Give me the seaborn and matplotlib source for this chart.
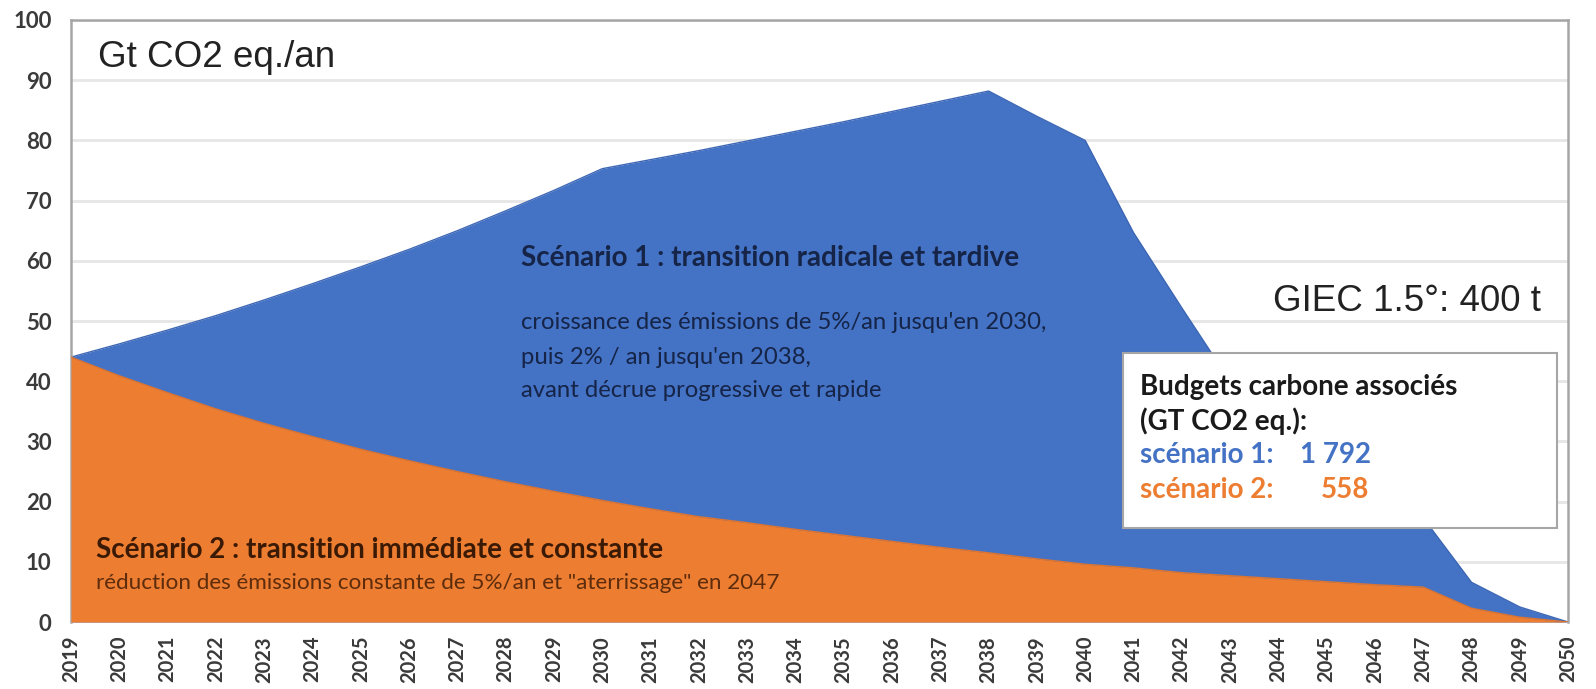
import matplotlib.pyplot as plt
from matplotlib.patches import Rectangle
import numpy as np
import pandas as pd
import seaborn as sns

annees = list(range(2019, 2051))

# scenario 1 : +5%/an jusqu'en 2030, +2%/an jusqu'en 2038, puis decrue
scenario_1 = [44.0, 46.2, 48.5, 50.9, 53.5, 56.2, 59.0, 61.9, 65.0, 68.3, 71.7, 75.3,
              76.8, 78.3, 79.9, 81.5, 83.1, 84.8, 86.5, 88.2, 84.0, 80.0,
              64.7, 52.2, 40.0, 34.0, 28.5, 23.0, 17.3, 6.6, 2.5, 0.0]

# scenario 2 : reduction constante puis "aterrissage" en 2047
scenario_2 = [44.0, 40.9, 38.1, 35.4, 33.0, 30.8, 28.7, 26.8, 25.0, 23.3, 21.7, 20.2,
              18.8, 17.5, 16.5, 15.4, 14.4, 13.4, 12.4, 11.5, 10.5, 9.6,
              9.0, 8.2, 7.7, 7.2, 6.7, 6.2, 5.8, 2.3, 0.8, 0.0]

y_ticks = list(range(0, 101, 10))

BLEU = '#4472C4'
ORANGE = '#ED7D31'

df = pd.DataFrame({'annee': annees, 'scenario 1': scenario_1, 'scenario 2': scenario_2})

sns.set_style('whitegrid')
plt.rcParams['font.family'] = ['Lato', 'DejaVu Sans']

fig, ax = plt.subplots(figsize=(15.96, 6.89), dpi=100)
fig.subplots_adjust(left=0.0445, right=0.9825, bottom=0.0972, top=0.971)

ax.fill_between(df['annee'], df['scenario 1'], color=BLEU, lw=0, zorder=2)
sns.lineplot(data=df, x='annee', y='scenario 1', color='#3d67b5', lw=1, ax=ax, zorder=2)
ax.fill_between(df['annee'], df['scenario 2'], color=ORANGE, lw=0, zorder=3)
sns.lineplot(data=df, x='annee', y='scenario 2', color='#dd7430', lw=1, ax=ax, zorder=3)

ax.set_xlim(2019, 2050)
ax.set_ylim(0, 100)
ax.set_xticks(annees)
ax.set_yticks(y_ticks)
ax.set_xlabel('')
ax.set_ylabel('')
ax.tick_params(axis='x', rotation=90, labelsize=14.5, pad=10, length=0)
ax.tick_params(axis='y', labelsize=16, pad=14, length=0)
for lab in ax.get_xticklabels() + ax.get_yticklabels():
    lab.set_fontweight('bold')
    lab.set_color('#3a3a3a')

ax.grid(axis='x', visible=False)
ax.grid(axis='y', color='#e6e6e6', lw=2)
for side in ['left', 'top', 'right']:
    ax.spines[side].set_color('#a6a6a6')
    ax.spines[side].set_linewidth(1.8)
ax.spines['bottom'].set_visible(False)

ax.text(2019.56, 93.7, 'Gt CO2 eq./an', fontsize=26.5, family=['Liberation Sans'],
        color='#222222', va='center', ha='left')
ax.text(2043.89, 53.2, 'GIEC 1.5°: 400 t', fontsize=26.5, family=['Liberation Sans'],
        color='#222222', va='center', ha='left')

c1 = '#152447'
ax.text(2028.32, 60.5, 'Scénario 1 : transition radicale et tardive', fontsize=20,
        fontweight='bold', color=c1, va='center', zorder=5)
ax.text(2028.32, 49.7, "croissance des émissions de 5%/an jusqu'en 2030,", fontsize=17.2,
        color=c1, va='center', zorder=5)
ax.text(2028.32, 43.9, "puis 2% / an jusqu'en 2038,", fontsize=17.2, color=c1, va='center', zorder=5)
ax.text(2028.32, 38.5, 'avant décrue progressive et rapide', fontsize=17.2, color=c1,
        va='center', zorder=5)

ax.text(2019.52, 12.0, 'Scénario 2 : transition immédiate et constante', fontsize=20,
        fontweight='bold', color='#3b1a05', va='center', zorder=5)
ax.text(2019.52, 6.5, 'réduction des émissions constante de 5%/an et "aterrissage" en 2047',
        fontsize=16.2, color='#5c2c0c', va='center', zorder=5)

box = Rectangle((2040.78, 15.6), 9.0, 29.1, facecolor='white', edgecolor='#a6a6a6',
                lw=1.5, zorder=6)
ax.add_patch(box)
ax.text(2041.13, 39.0, 'Budgets carbone associés', fontsize=20, fontweight='bold',
        color='#1a1a1a', va='center', zorder=7)
ax.text(2041.13, 33.4, '(GT CO2 eq.):', fontsize=20, fontweight='bold',
        color='#1a1a1a', va='center', zorder=7)
ax.text(2041.13, 27.7, 'scénario 1:', fontsize=20, fontweight='bold', color=BLEU,
        va='center', zorder=7)
ax.text(2044.45, 27.7, '1 792', fontsize=20, fontweight='bold', color=BLEU,
        va='center', zorder=7)
ax.text(2041.13, 22.0, 'scénario 2:', fontsize=20, fontweight='bold', color=ORANGE,
        va='center', zorder=7)
ax.text(2044.88, 22.0, '558', fontsize=20, fontweight='bold', color=ORANGE,
        va='center', zorder=7)

plt.savefig('out.png', dpi=100)
